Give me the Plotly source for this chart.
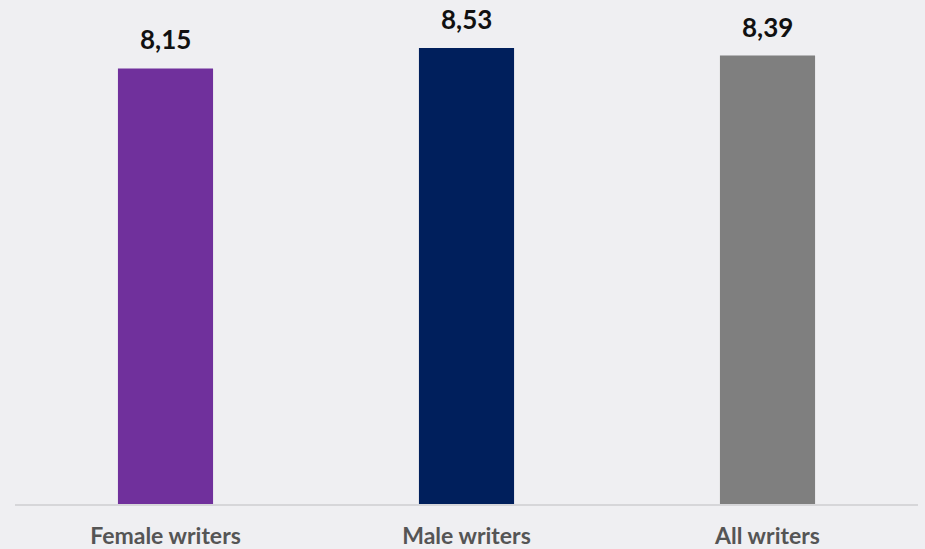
import plotly.graph_objects as go

categories = ["Female writers", "Male writers", "All writers"]
values = [8.15, 8.53, 8.39]
labels = ["8,15", "8,53", "8,39"]
colors = ["#70309c", "#001f5c", "#7f7f7f"]

fig = go.Figure(go.Bar(
    x=categories, y=values, marker_color=colors, marker_line_width=0,
    hoverinfo="skip",
))
for c, v, t in zip(categories, values, labels):
    fig.add_annotation(
        x=c, y=v, text=t, showarrow=False, yanchor="bottom", yshift=11,
        font=dict(family="Lato", size=26, color="#111111", weight="bold"),
    )
fig.update_layout(
    width=925, height=549,
    paper_bgcolor="#efeff2", plot_bgcolor="#efeff2",
    margin=dict(l=15, r=7, t=0, b=45),
    bargap=0.684,
    showlegend=False,
    font=dict(family="Lato"),
)
fig.update_yaxes(range=[0, 9.43], visible=False, showgrid=False)
fig.update_xaxes(
    showline=True, linecolor="#d6d6d9", linewidth=2,
    tickfont=dict(family="Lato", size=23, color="#555555", weight="bold"),
    ticks="", ticklen=0, ticklabelstandoff=10,
)
fig.write_html(
    "out.html",
    config={"displayModeBar": False},
    post_script="document.body.style.margin='0';document.body.style.overflow='hidden';",
)
